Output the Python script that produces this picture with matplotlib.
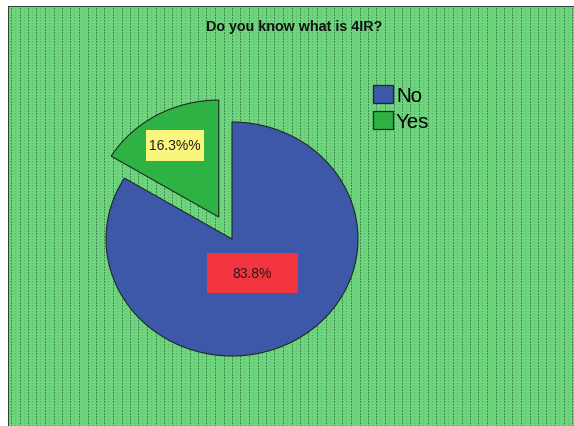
import numpy as np
import matplotlib
matplotlib.use("Agg")
import matplotlib.pyplot as plt
from matplotlib.patches import Rectangle

plt.rcParams['font.family'] = ['Liberation Sans', 'DejaVu Sans']

# Survey answers: "Do you know what is 4IR?"
categories = ["No", "Yes"]
shares = [83.8, 16.3]
label_texts = ["83.8%", "16.3%%"]

slice_colors = ["#3D57A9", "#2DB243"]
box_colors = ["#F2343F", "#FAF57C"]

W, H = 574, 427
DPI = 100
fig = plt.figure(figsize=(W / DPI, H / DPI), dpi=DPI)
fig.patch.set_facecolor("white")

# ---- patterned chart area (dotted vertical texture) -------------------------
base = np.array([110, 212, 126]) / 255
dark = np.array([62, 140, 78]) / 255
light = np.array([90, 180, 104]) / 255
tex = np.ones((H, W, 3))
tex[7:, 8:] = base
rows = np.arange(8, H)
on = (rows % 3) != 2
for x in np.round(np.arange(11, W, 8.5)).astype(int):
    tex[rows[on], x] = dark
    if x + 4 < W:
        tex[rows[(rows % 3) == 0], x + 4] = light
tex[7:, 8] = np.array([40, 70, 48]) / 255
tex[7, 8:] = np.array([40, 70, 48]) / 255

bg = fig.add_axes([0, 0, 1, 1], zorder=0)
bg.imshow(tex, interpolation="nearest", extent=(0, W, H, 0), aspect="auto")
bg.set_xlim(0, W)
bg.set_ylim(H, 0)
bg.axis("off")

# title
fig.text(294 / W, 1 - 27 / H, "Do you know what is 4IR?", ha="center", va="center",
         fontsize=10.3, fontweight="bold", color="#111111")

# ---- pie -------------------------------------------------------------------
cx, cy = 232, 240          # pie centre in pixels (from top-left)
rx, ry = 126, 117          # horizontal / vertical radius in pixels
lim = 1.3
ax = fig.add_axes([(cx - lim * rx) / W, (H - cy - lim * ry) / H,
                   2 * lim * rx / W, 2 * lim * ry / H], zorder=1)
ax.patch.set_alpha(0)

wedges, _ = ax.pie(shares, colors=slice_colors, startangle=90, counterclock=False,
                   explode=[0, 0.215], radius=1.0,
                   wedgeprops=dict(edgecolor="#1E2A22", linewidth=0.8))
ax.set_aspect("auto")
ax.set_xlim(-lim, lim)
ax.set_ylim(-lim, lim)
ax.axis("off")

# value labels in filled boxes, placed along each slice's bisector
label_radius = [0.33, 0.92]
box_px = [(91, 40), (58, 31)]
for w, txt, bc, r, (bw, bh) in zip(wedges, label_texts, box_colors, label_radius, box_px):
    mid = np.deg2rad((w.theta1 + w.theta2) / 2)
    lx, ly = r * np.cos(mid), r * np.sin(mid)
    bwd, bhd = bw / rx, bh / ry
    ax.add_patch(Rectangle((lx - bwd / 2, ly - bhd / 2), bwd, bhd,
                           facecolor=bc, edgecolor="none", zorder=3))
    ax.text(lx, ly, txt, ha="center", va="center", fontsize=10,
            color="#2A1A1A", zorder=4)

# ---- legend ----------------------------------------------------------------
leg_y = [95, 121]
for cat, col, y in zip(categories, slice_colors, leg_y):
    bg.add_patch(Rectangle((373, y - 9), 20, 18, facecolor=col,
                           edgecolor="#1E2A22", lw=0.9, zorder=5))
    bg.text(396, y + 1, cat, ha="left", va="center", fontsize=14.8,
            color="black", zorder=5)

fig.savefig("out.png", dpi=DPI)
